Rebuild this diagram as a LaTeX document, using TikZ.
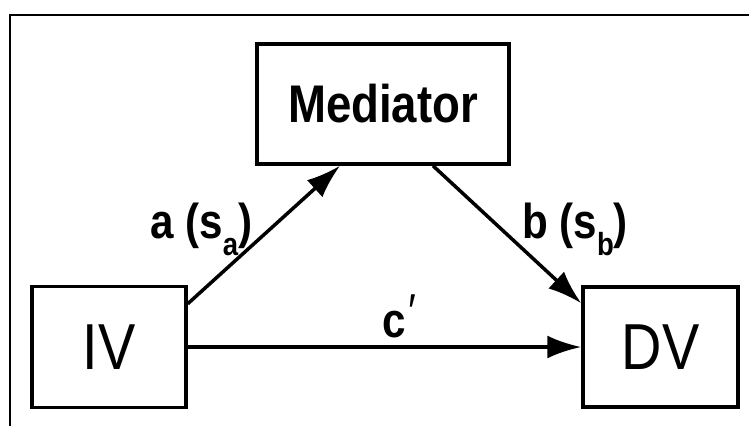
\documentclass[tikz,border=0pt]{standalone}
\usepackage{fontspec}
\setmainfont{Liberation Sans}[FakeStretch=0.86]
\usetikzlibrary{arrows.meta}

\begin{document}
\begin{tikzpicture}[x=1pt, y=-1pt,
    var/.style={draw, line width=3.5pt, inner sep=0pt},
    path/.style={line width=3.5pt, -{Latex[length=34pt,width=23pt]}},
    lbl/.style={font=\fontsize{49}{49}\selectfont\bfseries, inner sep=0pt, anchor=base west}]
    \useasboundingbox (0,0) rectangle (749,426);
    \draw[line width=2pt] (9.5,426) -- (9.5,14.5) -- (749,14.5);
    \node[var, minimum width=252pt, minimum height=120pt, font=\fontsize{53}{53}\selectfont\bfseries] (med) at (383,104) {Mediator};
    \node[var, minimum width=154pt, minimum height=121pt, font=\fontsize{65}{65}\selectfont] (iv) at (109,347) {IV};
    \node[var, minimum width=155pt, minimum height=120pt, font=\fontsize{65}{65}\selectfont] (dv) at (660.5,347) {DV};
    \draw[path] ([yshift=-19pt]iv.north east) -- ([xshift=-43pt]med.south);
    \draw[path] ([xshift=50pt]med.south) -- ([yshift=-18pt]dv.north west);
    \draw[path] (iv) -- (dv);
    \node[lbl] (la) at (150,238) {a (s\raisebox{-17pt}{\fontsize{32}{32}\selectfont a})};
    \node[lbl] (lb) at (522,238) {b (s\raisebox{-17pt}{\fontsize{32}{32}\selectfont b})};
    \node[lbl] (lc) at (382,337) {c\hspace{3pt}\raisebox{9pt}{\mdseries ′}};
\end{tikzpicture}
\end{document}
